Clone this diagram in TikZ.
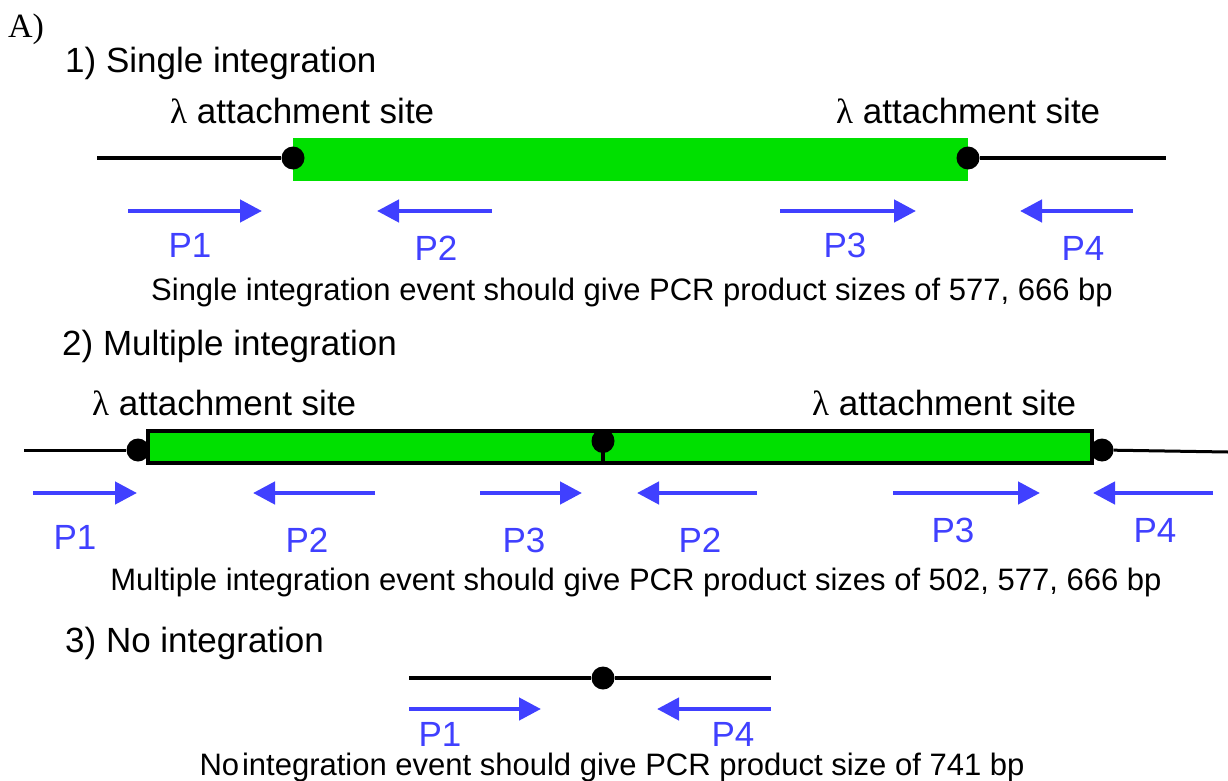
\documentclass[tikz,border=0pt]{standalone}
\usepackage{fontspec}
\setmainfont{Liberation Sans}
\newfontfamily\seriffont{Liberation Serif}
\usetikzlibrary{arrows.meta, shapes.geometric}
\definecolor{primerblue}{RGB}{64,64,255}
\definecolor{insertgreen}{RGB}{0,224,0}

\begin{document}
\begin{tikzpicture}[x=1pt, y=-1pt,
    heading/.style={anchor=base west, inner sep=0pt, font=\fontsize{35}{40}\selectfont},
    caption/.style={anchor=base, inner sep=0pt, font=\fontsize{31}{36}\selectfont},
    plabel/.style={anchor=base, inner sep=0pt, text=primerblue, font=\fontsize{35}{40}\selectfont},
    primer/.style={draw=primerblue, line width=4.5pt, -{Triangle[length=22pt,width=22pt]}},
    dna/.style={draw=black, line width=4.5pt},
    site/.style={circle, fill=black, inner sep=0pt, minimum size=23pt},
    insertbox/.style={fill=insertgreen, draw=black, line width=3.5pt}]
  \useasboundingbox (0,0) rectangle (1228,781);

  \node[anchor=base west, inner sep=0pt, font=\seriffont\fontsize{34}{38}\selectfont] (panel) at (8,38) {A)};

  % 1) single integration
  \node[heading] (title1) at (65,73) {1) Single integration};
  \node[heading] (att1a) at (170,124) {{\seriffont λ} attachment site};
  \node[heading] (att1b) at (836,124) {{\seriffont λ} attachment site};
  \fill[insertgreen] (293,138) rectangle (968,181);
  \node[site] (site1a) at (293,158) {};
  \node[site] (site1b) at (968,158) {};
  \coordinate (end1a) at (97,158);
  \coordinate (end1b) at (1166,158);
  \draw[dna, line width=3.5pt] (end1a) -- (site1a);
  \draw[dna, line width=3.5pt] (site1b) -- (end1b);
  \foreach \xa/\xb in {128/262, 492/377, 780/916, 1133/1020}
    \draw[primer] (\xa,211) -- (\xb,211);
  \foreach \xx/\yy/\name [count=\i] in {190/257/P1, 436/260/P2, 845/257/P3, 1083/260/P4}
    \node[plabel] (p1-\i) at (\xx,\yy) {\name};
  \node[caption] (cap1) at (632,300) {Single integration event should give PCR product sizes of 577, 666 bp};

  % 2) multiple integration
  \node[heading] (title2) at (62,355) {2) Multiple integration};
  \node[heading] (att2a) at (92,415) {{\seriffont λ} attachment site};
  \node[heading] (att2b) at (812,415) {{\seriffont λ} attachment site};
  \node[site] (site2a) at (138,450) {};
  \node[site] (site2c) at (1102,450) {};
  \coordinate (end2a) at (24,450);
  \coordinate (end2b) at (1228,452);
  \draw[dna, line width=3pt] (end2a) -- (site2a);
  \draw[dna, line width=3pt] (site2c) -- (end2b);
  \draw[insertbox] (148,431) rectangle (603,463);
  \draw[insertbox] (603,431) rectangle (1092,463);
  \node[site, ellipse, minimum width=23pt, minimum height=24pt] (site2b) at (603,441) {};
  \foreach \xa/\xb in {33/137, 375/253, 480/582, 757/637, 893/1040, 1213/1093}
    \draw[primer] (\xa,493) -- (\xb,493);
  \foreach \xx/\yy/\name [count=\i] in {75/549/P1, 307/552/P2, 524/552/P3, 700/552/P2, 953/542/P3, 1155/542/P4}
    \node[plabel] (p2-\i) at (\xx,\yy) {\name};
  \node[caption] (cap2) at (636,590) {Multiple integration event should give PCR product sizes of 502, 577, 666 bp};

  % 3) no integration
  \node[heading] (title3) at (65,652) {3) No integration};
  \node[site] (site3) at (603,678) {};
  \coordinate (end3a) at (409,678);
  \coordinate (end3b) at (771,678);
  \draw[dna] (end3a) -- (site3);
  \draw[dna] (site3) -- (end3b);
  \foreach \xa/\xb in {409/541, 771/657}
    \draw[primer] (\xa,709) -- (\xb,709);
  \node[plabel] (p3-1) at (440,746) {P1};
  \node[plabel] (p3-2) at (733,746) {P4};
  \node[caption] (cap3) at (612,775) {No\kern3pt integration event should give PCR product size of 741 bp};
\end{tikzpicture}
\end{document}
